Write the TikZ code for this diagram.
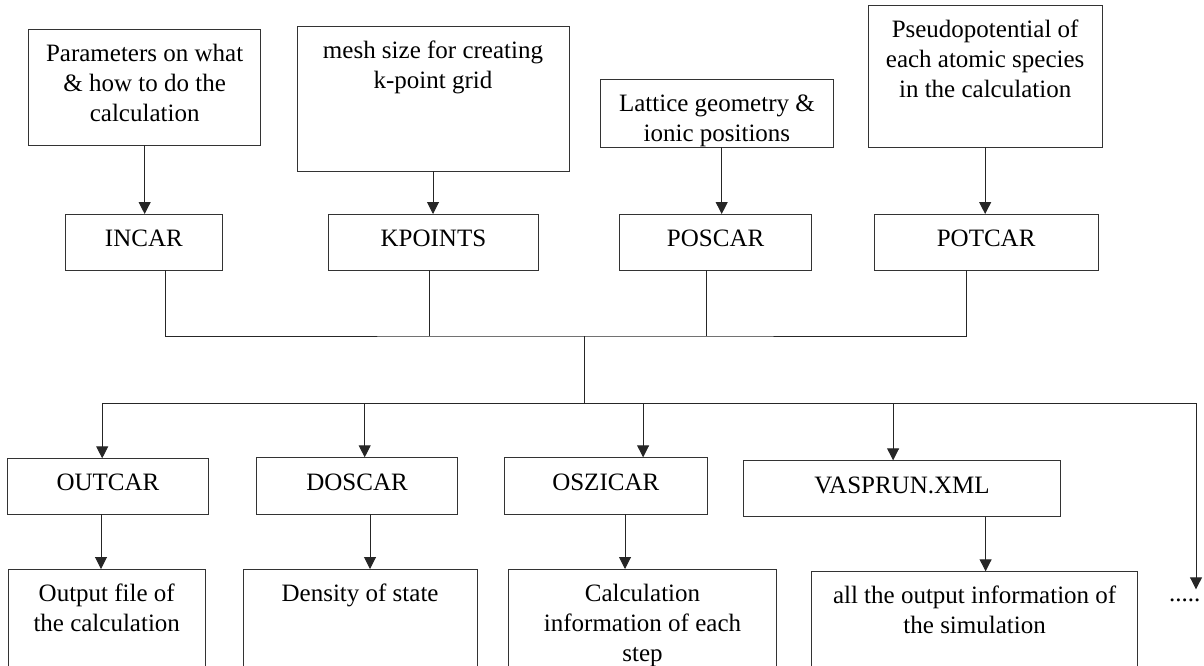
\documentclass[tikz,border=0pt]{standalone}
\usepackage{fontspec}
\setmainfont{Liberation Serif}
\usetikzlibrary{arrows.meta,calc}
\newcommand{\TopTxt}[3]{\parbox[c][#2][t]{#1}{\centering\vspace*{11pt}\strut #3}}
\begin{document}
\begin{tikzpicture}[x=1pt,y=-1pt,
  every node/.style={font=\fontsize{25}{30}\selectfont},
  bx/.style={draw=black!80, line width=1pt, inner sep=0pt, outer sep=0pt},
  sbx/.style={bx, text height=16pt, text depth=7pt},
  ln/.style={line width=1pt, draw=black!85},
  arr/.style={ln, -{Triangle[length=12pt,width=12pt]}}]
\useasboundingbox (0,0) rectangle (1204,665);
\clip (0,0) rectangle (1204,665);

% top description boxes
\node[bx, anchor=north west] (pm) at (28.7,29.3) {\TopTxt{231.9pt}{115.7pt}{Parameters on what\\ \& how to do the\\ calculation}};
\node[bx, anchor=north west] (km) at (297,26.7) {\TopTxt{272pt}{144.6pt}{mesh size for creating\\ k-point grid}};
\node[bx, anchor=north west] (lt) at (600,79.3) {\TopTxt{233.8pt}{68pt}{Lattice geometry \&\\ ionic positions}};
\node[bx, anchor=north west] (ps) at (868,5.7) {\TopTxt{234.3pt}{141.6pt}{Pseudopotential of\\ each atomic species\\ in the calculation}};

% input files
\node[sbx, minimum width=157.7pt, minimum height=56.3pt] (incar) at (143.85,242.15) {INCAR};
\node[sbx, minimum width=210.9pt, minimum height=56.3pt] (kpoints) at (433.45,242.15) {KPOINTS};
\node[sbx, minimum width=192.6pt, minimum height=56.3pt] (poscar) at (715.6,242.15) {POSCAR};
\node[sbx, minimum width=223.7pt, minimum height=56.3pt] (potcar) at (986.15,242.15) {POTCAR};

\draw[arr] (pm.south) -- (pm.south |- incar.north);
\draw[arr] (km.south) -- (km.south |- kpoints.north);
\draw[arr] ([xshift=4.8pt]lt.south) -- ([xshift=4.8pt]lt.south |- poscar.north);
\draw[arr] (ps.south) -- (ps.south |- potcar.north);

% collecting bus
\coordinate (bus) at (584.4,336);
\coordinate (hub) at (584.4,403.3);
\draw[ln] ([xshift=21.15pt]incar.south) |- (bus) -| ([xshift=-19.45pt]potcar.south);
\draw[ln] ([xshift=-4.45pt]kpoints.south) -- ([xshift=-4.45pt]kpoints.south |- bus);
\draw[ln] ([xshift=-9.6pt]poscar.south) -- ([xshift=-9.6pt]poscar.south |- bus);
\draw[ln] (bus) -- (hub);

% output files
\node[sbx, minimum width=200.5pt, minimum height=55.7pt] (outcar) at (107.95,486.15) {OUTCAR};
\node[sbx, minimum width=201.3pt, minimum height=56.7pt] (doscar) at (357.05,485.65) {DOSCAR};
\node[sbx, minimum width=202.7pt, minimum height=56.7pt] (oszicar) at (605.75,485.65) {OSZICAR};
\node[sbx, minimum width=316.6pt, minimum height=56.4pt] (vasprun) at (902,488.5) {VASPRUN.XML};

\node[anchor=base west, inner sep=0pt] (dots) at (1169,601) {.....};
\coordinate (more) at (1196,589.3);

\draw[arr] (hub) -| ([xshift=-5.75pt]outcar.north);
\draw[arr] (hub) -| (more);
\draw[arr] ([xshift=7.65pt]doscar.north |- hub) -- ([xshift=7.65pt]doscar.north);
\draw[arr] ([xshift=37.35pt]oszicar.north |- hub) -- ([xshift=37.35pt]oszicar.north);
\draw[arr] ([xshift=-8.9pt]vasprun.north |- hub) -- ([xshift=-8.9pt]vasprun.north);

% bottom description boxes
\node[bx, anchor=north west] (out) at (8,569) {\TopTxt{197.5pt}{120pt}{Output file of\\ the calculation}};
\node[bx, anchor=north west] (dens) at (243,569) {\TopTxt{234.2pt}{120pt}{Density of state}};
\node[bx, anchor=north west] (calc) at (508.6,569) {\TopTxt{267.8pt}{120pt}{Calculation\\ information of each\\ step}};
\node[bx, anchor=north west] (allo) at (811.9,571.3) {\TopTxt{325.5pt}{120pt}{all the output information of\\ the simulation}};

\draw[arr] ([xshift=-6.95pt]outcar.south) -- ([xshift=-6.95pt]outcar.south |- out.north);
\draw[arr] ([xshift=12.95pt]doscar.south) -- ([xshift=12.95pt]doscar.south |- dens.north);
\draw[arr] ([xshift=19.25pt]oszicar.south) -- ([xshift=19.25pt]oszicar.south |- calc.north);
\draw[arr] ([xshift=83.6pt]vasprun.south) -- ([xshift=83.6pt]vasprun.south |- allo.north);
\end{tikzpicture}
\end{document}
